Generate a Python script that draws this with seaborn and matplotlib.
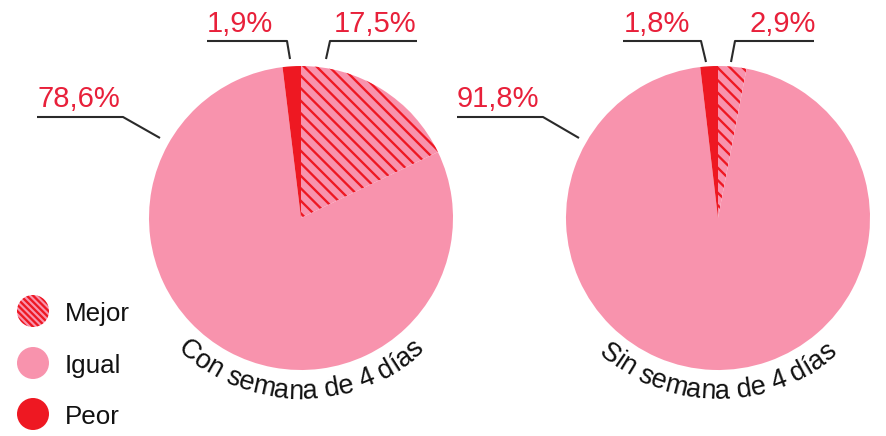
import numpy as np
import matplotlib
matplotlib.use("Agg")
import matplotlib.pyplot as plt
import seaborn as sns
from matplotlib.patches import Circle
from matplotlib.textpath import text_to_path
from matplotlib.font_manager import FontProperties

# data
categories = ["Mejor", "Igual", "Peor"]
con_semana = [17.5, 78.6, 1.9]
sin_semana = [2.9, 91.8, 1.8]
pie_titles = ["Con semana de 4 días", "Sin semana de 4 días"]

PINK = "#F893AD"
RED = "#EE1822"
TXT_RED = "#E8203A"
LINE = "#2a2a2a"

W, H, DPI = 886, 436, 150
PX = DPI / 72.0

sns.set_theme(style="white")
plt.rcParams["font.family"] = ["Liberation Sans", "DejaVu Sans"]
plt.rcParams["hatch.linewidth"] = 1.1
plt.rcParams["hatch.color"] = RED

# layout in image pixels (y downwards)
centers = [(301, 218), (718, 218)]
RADIUS = 152
label_layout = [
    {
        "Mejor": ((334, 32), [(417, 41), (330, 41), (326, 59)]),
        "Igual": ((38, 107), [(37, 117), (123, 117), (160, 138)]),
        "Peor": ((207, 32), [(207, 41), (287, 41), (290, 59)]),
    },
    {
        "Mejor": ((750, 32), [(814, 41), (735, 41), (731, 62)]),
        "Igual": ((457, 107), [(457, 117), (543, 117), (579, 138)]),
        "Peor": ((624, 32), [(623, 41), (701, 41), (706, 62)]),
    },
]


def fy(y):
    return H - y


def fmt(v):
    return f"{v:.1f}".replace(".", ",") + "%"


def curved_text(ax, text, cx, cy, r, size):
    prop = FontProperties(family="Liberation Sans", size=size)

    def adv(s):
        w1 = text_to_path.get_text_width_height_descent("H" + s + "H", prop, ismath=False)[0]
        w0 = text_to_path.get_text_width_height_descent("HH", prop, ismath=False)[0]
        return (w1 - w0) * PX

    total = adv(text)
    for i, ch in enumerate(text):
        if ch == " ":
            continue
        mid = (adv(text[:i]) + adv(text[:i + 1])) / 2 - total / 2
        th = -np.pi / 2 + mid / r
        ax.text(cx + r * np.cos(th), cy + r * np.sin(th), ch, fontsize=size,
                rotation=np.degrees(th) + 90, rotation_mode="anchor",
                ha="center", va="baseline", color="#111111")


fig = plt.figure(figsize=(W / DPI, H / DPI), dpi=DPI)
ax = fig.add_axes([0, 0, 1, 1])

for k, values in enumerate([con_semana, sin_semana]):
    cx, cy = centers[k]
    wedges, _ = ax.pie(values, colors=[PINK, PINK, RED], startangle=90,
                       counterclock=False, center=(cx, fy(cy)), radius=RADIUS,
                       frame=True, wedgeprops={"linewidth": 0})
    wedges[0].set_hatch("\\\\\\\\")
    wedges[0].set_edgecolor(RED)
    wedges[0].set_linewidth(0)

    for cat, v in zip(categories, values):
        (tx, ty), pts = label_layout[k][cat]
        ax.text(tx, fy(ty), fmt(v), fontsize=14, color=TXT_RED,
                ha="left", va="baseline")
        xs = [p[0] for p in pts]
        ys = [fy(p[1]) for p in pts]
        ax.plot(xs, ys, color=LINE, lw=1.0, solid_capstyle="butt")

    curved_text(ax, pie_titles[k], cx, fy(cy), 181, 13)

# legend
legend_y = [311, 363, 414]
legend_style = [(PINK, "\\\\\\\\\\\\\\\\"), (PINK, None), (RED, None)]
for cat, y, (fc, hatch) in zip(categories, legend_y, legend_style):
    c = Circle((33, fy(y)), 16, facecolor=fc, edgecolor=RED if hatch else fc,
               linewidth=0, hatch=hatch)
    ax.add_patch(c)
    ax.text(65, fy(y), cat, fontsize=12.5, color="#111111", ha="left",
            va="center_baseline")

ax.set_xlim(0, W)
ax.set_ylim(0, H)
ax.set_aspect("equal")
ax.axis("off")

fig.savefig("out.png", dpi=DPI, facecolor="white")
